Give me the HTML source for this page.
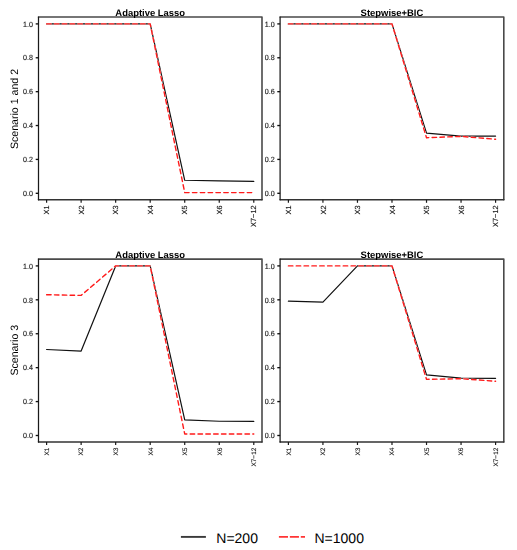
<!DOCTYPE html>
<html><head><meta charset="utf-8"><style>
html,body{margin:0;padding:0;background:#fff;}
svg{display:block;} svg.main{will-change:transform;} svg.leg{background:#fff;}
text{font-family:"Liberation Sans",sans-serif;text-rendering:geometricPrecision;}
.tk{font-size:7.5px;fill:#1c1c1c;stroke:#1c1c1c;stroke-width:0.15px;}
.ttl{font-size:9.45px;font-weight:bold;fill:#000;}
.ax{font-size:10.6px;fill:#000;}
.lg{font-size:14px;fill:#000;}
</style></head><body>
<svg class="main" width="517" height="526" viewBox="0 0 517 526">
<rect width="517" height="526" fill="#fff"/>
<path d="M38.5,17 L262,17 L262,199.8" fill="none" stroke="#4a4a4a" stroke-width="1.6" stroke-linejoin="round" stroke-linecap="round"/>
<line x1="262" y1="199.8" x2="38.5" y2="199.8" stroke="#333" stroke-width="1.55" stroke-linecap="round"/>
<line x1="38.5" y1="17" x2="38.5" y2="199.8" stroke="#1a1a1a" stroke-width="1.25" stroke-linecap="round"/>
<line x1="35.7" y1="193.3" x2="38.5" y2="193.3" stroke="#111" stroke-width="1.35"/>
<text class="tk" text-anchor="end" transform="translate(33,196) scale(0.95,1)">0.0</text>
<line x1="35.7" y1="159.42" x2="38.5" y2="159.42" stroke="#111" stroke-width="1.35"/>
<text class="tk" text-anchor="end" transform="translate(33,162.12) scale(0.95,1)">0.2</text>
<line x1="35.7" y1="125.54" x2="38.5" y2="125.54" stroke="#111" stroke-width="1.35"/>
<text class="tk" text-anchor="end" transform="translate(33,128.24) scale(0.95,1)">0.4</text>
<line x1="35.7" y1="91.66" x2="38.5" y2="91.66" stroke="#111" stroke-width="1.35"/>
<text class="tk" text-anchor="end" transform="translate(33,94.36) scale(0.95,1)">0.6</text>
<line x1="35.7" y1="57.78" x2="38.5" y2="57.78" stroke="#111" stroke-width="1.35"/>
<text class="tk" text-anchor="end" transform="translate(33,60.48) scale(0.95,1)">0.8</text>
<line x1="35.7" y1="23.9" x2="38.5" y2="23.9" stroke="#111" stroke-width="1.35"/>
<text class="tk" text-anchor="end" transform="translate(33,26.6) scale(0.95,1)">1.0</text>
<line x1="46.6" y1="199.8" x2="46.6" y2="202.8" stroke="#1a1a1a" stroke-width="1.2"/>
<text class="tk" text-anchor="end" style="font-size:7.4px" transform="translate(49.23,205.4) rotate(-90)">X1</text>
<line x1="81.13" y1="199.8" x2="81.13" y2="202.8" stroke="#1a1a1a" stroke-width="1.2"/>
<text class="tk" text-anchor="end" style="font-size:7.4px" transform="translate(83.76,205.4) rotate(-90)">X2</text>
<line x1="115.66" y1="199.8" x2="115.66" y2="202.8" stroke="#1a1a1a" stroke-width="1.2"/>
<text class="tk" text-anchor="end" style="font-size:7.4px" transform="translate(118.29,205.4) rotate(-90)">X3</text>
<line x1="150.19" y1="199.8" x2="150.19" y2="202.8" stroke="#1a1a1a" stroke-width="1.2"/>
<text class="tk" text-anchor="end" style="font-size:7.4px" transform="translate(152.82,205.4) rotate(-90)">X4</text>
<line x1="184.72" y1="199.8" x2="184.72" y2="202.8" stroke="#1a1a1a" stroke-width="1.2"/>
<text class="tk" text-anchor="end" style="font-size:7.4px" transform="translate(187.35,205.4) rotate(-90)">X5</text>
<line x1="219.25" y1="199.8" x2="219.25" y2="202.8" stroke="#1a1a1a" stroke-width="1.2"/>
<text class="tk" text-anchor="end" style="font-size:7.4px" transform="translate(221.88,205.4) rotate(-90)">X6</text>
<line x1="253.78" y1="199.8" x2="253.78" y2="202.8" stroke="#1a1a1a" stroke-width="1.2"/>
<text class="tk" text-anchor="end" style="font-size:7.4px" transform="translate(256.41,205.4) rotate(-90)">X7−12</text>
<polyline points="46.6,23.9 81.13,23.9 115.66,23.9 150.19,23.9 184.72,180.26 219.25,180.93 253.78,181.44" fill="none" stroke="#111" stroke-width="1.2" stroke-linejoin="round" stroke-linecap="round"/>
<g transform="scale(1,1.01)" fill="none" stroke-width="1.4" stroke-dasharray="4.5 3.33" stroke-linecap="round" stroke-linejoin="round"><polyline points="46.6,23.663 81.13,23.663 115.66,23.663 150.19,23.663 184.72,190.715 219.25,190.715 253.78,190.715" stroke="#fff"/><polyline points="46.6,23.663 81.13,23.663 115.66,23.663 150.19,23.663 184.72,190.715 219.25,190.715 253.78,190.715" stroke="#ff1a1a"/></g>
<text x="150.25" y="15.6" class="ttl" text-anchor="middle">Adaptive Lasso</text>
<path d="M280.1,17 L503.8,17 L503.8,199.8" fill="none" stroke="#4a4a4a" stroke-width="1.6" stroke-linejoin="round" stroke-linecap="round"/>
<line x1="503.8" y1="199.8" x2="280.1" y2="199.8" stroke="#333" stroke-width="1.55" stroke-linecap="round"/>
<line x1="280.1" y1="17" x2="280.1" y2="199.8" stroke="#1a1a1a" stroke-width="1.25" stroke-linecap="round"/>
<line x1="277.3" y1="193.3" x2="280.1" y2="193.3" stroke="#111" stroke-width="1.35"/>
<text class="tk" text-anchor="end" transform="translate(274.6,196) scale(0.95,1)">0.0</text>
<line x1="277.3" y1="159.42" x2="280.1" y2="159.42" stroke="#111" stroke-width="1.35"/>
<text class="tk" text-anchor="end" transform="translate(274.6,162.12) scale(0.95,1)">0.2</text>
<line x1="277.3" y1="125.54" x2="280.1" y2="125.54" stroke="#111" stroke-width="1.35"/>
<text class="tk" text-anchor="end" transform="translate(274.6,128.24) scale(0.95,1)">0.4</text>
<line x1="277.3" y1="91.66" x2="280.1" y2="91.66" stroke="#111" stroke-width="1.35"/>
<text class="tk" text-anchor="end" transform="translate(274.6,94.36) scale(0.95,1)">0.6</text>
<line x1="277.3" y1="57.78" x2="280.1" y2="57.78" stroke="#111" stroke-width="1.35"/>
<text class="tk" text-anchor="end" transform="translate(274.6,60.48) scale(0.95,1)">0.8</text>
<line x1="277.3" y1="23.9" x2="280.1" y2="23.9" stroke="#111" stroke-width="1.35"/>
<text class="tk" text-anchor="end" transform="translate(274.6,26.6) scale(0.95,1)">1.0</text>
<line x1="288.4" y1="199.8" x2="288.4" y2="202.8" stroke="#1a1a1a" stroke-width="1.2"/>
<text class="tk" text-anchor="end" style="font-size:7.4px" transform="translate(291.03,205.4) rotate(-90)">X1</text>
<line x1="322.93" y1="199.8" x2="322.93" y2="202.8" stroke="#1a1a1a" stroke-width="1.2"/>
<text class="tk" text-anchor="end" style="font-size:7.4px" transform="translate(325.56,205.4) rotate(-90)">X2</text>
<line x1="357.46" y1="199.8" x2="357.46" y2="202.8" stroke="#1a1a1a" stroke-width="1.2"/>
<text class="tk" text-anchor="end" style="font-size:7.4px" transform="translate(360.09,205.4) rotate(-90)">X3</text>
<line x1="391.99" y1="199.8" x2="391.99" y2="202.8" stroke="#1a1a1a" stroke-width="1.2"/>
<text class="tk" text-anchor="end" style="font-size:7.4px" transform="translate(394.62,205.4) rotate(-90)">X4</text>
<line x1="426.52" y1="199.8" x2="426.52" y2="202.8" stroke="#1a1a1a" stroke-width="1.2"/>
<text class="tk" text-anchor="end" style="font-size:7.4px" transform="translate(429.15,205.4) rotate(-90)">X5</text>
<line x1="461.05" y1="199.8" x2="461.05" y2="202.8" stroke="#1a1a1a" stroke-width="1.2"/>
<text class="tk" text-anchor="end" style="font-size:7.4px" transform="translate(463.68,205.4) rotate(-90)">X6</text>
<line x1="495.58" y1="199.8" x2="495.58" y2="202.8" stroke="#1a1a1a" stroke-width="1.2"/>
<text class="tk" text-anchor="end" style="font-size:7.4px" transform="translate(498.21,205.4) rotate(-90)">X7−12</text>
<polyline points="288.4,23.9 322.93,23.9 357.46,23.9 391.99,23.9 426.52,133.16 461.05,136.04 495.58,136.04" fill="none" stroke="#111" stroke-width="1.2" stroke-linejoin="round" stroke-linecap="round"/>
<g transform="scale(1,1.01)" fill="none" stroke-width="1.4" stroke-dasharray="4.5 3.33" stroke-linecap="round" stroke-linejoin="round"><polyline points="288.4,23.663 322.93,23.663 357.46,23.663 391.99,23.663 426.52,136.373 461.05,135.031 495.58,137.883" stroke="#fff"/><polyline points="288.4,23.663 322.93,23.663 357.46,23.663 391.99,23.663 426.52,136.373 461.05,135.031 495.58,137.883" stroke="#ff1a1a"/></g>
<text x="391.95" y="15.6" class="ttl" text-anchor="middle">Stepwise+BIC</text>
<path d="M38.5,259.1 L262,259.1 L262,442" fill="none" stroke="#4a4a4a" stroke-width="1.6" stroke-linejoin="round" stroke-linecap="round"/>
<line x1="262" y1="442" x2="38.5" y2="442" stroke="#333" stroke-width="1.55" stroke-linecap="round"/>
<line x1="38.5" y1="259.1" x2="38.5" y2="442" stroke="#1a1a1a" stroke-width="1.25" stroke-linecap="round"/>
<line x1="35.7" y1="435.5" x2="38.5" y2="435.5" stroke="#111" stroke-width="1.35"/>
<text class="tk" text-anchor="end" transform="translate(33,438.2) scale(0.95,1)">0.0</text>
<line x1="35.7" y1="401.58" x2="38.5" y2="401.58" stroke="#111" stroke-width="1.35"/>
<text class="tk" text-anchor="end" transform="translate(33,404.28) scale(0.95,1)">0.2</text>
<line x1="35.7" y1="367.66" x2="38.5" y2="367.66" stroke="#111" stroke-width="1.35"/>
<text class="tk" text-anchor="end" transform="translate(33,370.36) scale(0.95,1)">0.4</text>
<line x1="35.7" y1="333.74" x2="38.5" y2="333.74" stroke="#111" stroke-width="1.35"/>
<text class="tk" text-anchor="end" transform="translate(33,336.44) scale(0.95,1)">0.6</text>
<line x1="35.7" y1="299.82" x2="38.5" y2="299.82" stroke="#111" stroke-width="1.35"/>
<text class="tk" text-anchor="end" transform="translate(33,302.52) scale(0.95,1)">0.8</text>
<line x1="35.7" y1="265.9" x2="38.5" y2="265.9" stroke="#111" stroke-width="1.35"/>
<text class="tk" text-anchor="end" transform="translate(33,268.6) scale(0.95,1)">1.0</text>
<line x1="46.6" y1="442" x2="46.6" y2="445" stroke="#1a1a1a" stroke-width="1.2"/>
<text class="tk" text-anchor="end" style="font-size:6.5px" transform="translate(48.91,447.6) rotate(-90)">X1</text>
<line x1="81.13" y1="442" x2="81.13" y2="445" stroke="#1a1a1a" stroke-width="1.2"/>
<text class="tk" text-anchor="end" style="font-size:6.5px" transform="translate(83.44,447.6) rotate(-90)">X2</text>
<line x1="115.66" y1="442" x2="115.66" y2="445" stroke="#1a1a1a" stroke-width="1.2"/>
<text class="tk" text-anchor="end" style="font-size:6.5px" transform="translate(117.97,447.6) rotate(-90)">X3</text>
<line x1="150.19" y1="442" x2="150.19" y2="445" stroke="#1a1a1a" stroke-width="1.2"/>
<text class="tk" text-anchor="end" style="font-size:6.5px" transform="translate(152.5,447.6) rotate(-90)">X4</text>
<line x1="184.72" y1="442" x2="184.72" y2="445" stroke="#1a1a1a" stroke-width="1.2"/>
<text class="tk" text-anchor="end" style="font-size:6.5px" transform="translate(187.03,447.6) rotate(-90)">X5</text>
<line x1="219.25" y1="442" x2="219.25" y2="445" stroke="#1a1a1a" stroke-width="1.2"/>
<text class="tk" text-anchor="end" style="font-size:6.5px" transform="translate(221.56,447.6) rotate(-90)">X6</text>
<line x1="253.78" y1="442" x2="253.78" y2="445" stroke="#1a1a1a" stroke-width="1.2"/>
<text class="tk" text-anchor="end" style="font-size:6.5px" transform="translate(256.09,447.6) rotate(-90)">X7−12</text>
<polyline points="46.6,349.51 81.13,351.04 115.66,265.9 150.19,265.9 184.72,419.9 219.25,421.25 253.78,421.42" fill="none" stroke="#111" stroke-width="1.2" stroke-linejoin="round" stroke-linecap="round"/>
<g transform="scale(1,1.01)" fill="none" stroke-width="1.4" stroke-dasharray="4.5 3.33" stroke-linecap="round" stroke-linejoin="round"><polyline points="46.6,291.814 81.13,292.486 115.66,263.267 150.19,263.267 184.72,429.677 219.25,429.677 253.78,429.677" stroke="#fff"/><polyline points="46.6,291.814 81.13,292.486 115.66,263.267 150.19,263.267 184.72,429.677 219.25,429.677 253.78,429.677" stroke="#ff1a1a"/></g>
<text x="150.25" y="257.7" class="ttl" text-anchor="middle">Adaptive Lasso</text>
<path d="M280.1,259.1 L503.8,259.1 L503.8,442" fill="none" stroke="#4a4a4a" stroke-width="1.6" stroke-linejoin="round" stroke-linecap="round"/>
<line x1="503.8" y1="442" x2="280.1" y2="442" stroke="#333" stroke-width="1.55" stroke-linecap="round"/>
<line x1="280.1" y1="259.1" x2="280.1" y2="442" stroke="#1a1a1a" stroke-width="1.25" stroke-linecap="round"/>
<line x1="277.3" y1="435.5" x2="280.1" y2="435.5" stroke="#111" stroke-width="1.35"/>
<text class="tk" text-anchor="end" transform="translate(274.6,438.2) scale(0.95,1)">0.0</text>
<line x1="277.3" y1="401.58" x2="280.1" y2="401.58" stroke="#111" stroke-width="1.35"/>
<text class="tk" text-anchor="end" transform="translate(274.6,404.28) scale(0.95,1)">0.2</text>
<line x1="277.3" y1="367.66" x2="280.1" y2="367.66" stroke="#111" stroke-width="1.35"/>
<text class="tk" text-anchor="end" transform="translate(274.6,370.36) scale(0.95,1)">0.4</text>
<line x1="277.3" y1="333.74" x2="280.1" y2="333.74" stroke="#111" stroke-width="1.35"/>
<text class="tk" text-anchor="end" transform="translate(274.6,336.44) scale(0.95,1)">0.6</text>
<line x1="277.3" y1="299.82" x2="280.1" y2="299.82" stroke="#111" stroke-width="1.35"/>
<text class="tk" text-anchor="end" transform="translate(274.6,302.52) scale(0.95,1)">0.8</text>
<line x1="277.3" y1="265.9" x2="280.1" y2="265.9" stroke="#111" stroke-width="1.35"/>
<text class="tk" text-anchor="end" transform="translate(274.6,268.6) scale(0.95,1)">1.0</text>
<line x1="288.4" y1="442" x2="288.4" y2="445" stroke="#1a1a1a" stroke-width="1.2"/>
<text class="tk" text-anchor="end" style="font-size:6.5px" transform="translate(290.71,447.6) rotate(-90)">X1</text>
<line x1="322.93" y1="442" x2="322.93" y2="445" stroke="#1a1a1a" stroke-width="1.2"/>
<text class="tk" text-anchor="end" style="font-size:6.5px" transform="translate(325.24,447.6) rotate(-90)">X2</text>
<line x1="357.46" y1="442" x2="357.46" y2="445" stroke="#1a1a1a" stroke-width="1.2"/>
<text class="tk" text-anchor="end" style="font-size:6.5px" transform="translate(359.77,447.6) rotate(-90)">X3</text>
<line x1="391.99" y1="442" x2="391.99" y2="445" stroke="#1a1a1a" stroke-width="1.2"/>
<text class="tk" text-anchor="end" style="font-size:6.5px" transform="translate(394.3,447.6) rotate(-90)">X4</text>
<line x1="426.52" y1="442" x2="426.52" y2="445" stroke="#1a1a1a" stroke-width="1.2"/>
<text class="tk" text-anchor="end" style="font-size:6.5px" transform="translate(428.83,447.6) rotate(-90)">X5</text>
<line x1="461.05" y1="442" x2="461.05" y2="445" stroke="#1a1a1a" stroke-width="1.2"/>
<text class="tk" text-anchor="end" style="font-size:6.5px" transform="translate(463.36,447.6) rotate(-90)">X6</text>
<line x1="495.58" y1="442" x2="495.58" y2="445" stroke="#1a1a1a" stroke-width="1.2"/>
<text class="tk" text-anchor="end" style="font-size:6.5px" transform="translate(497.89,447.6) rotate(-90)">X7−12</text>
<polyline points="288.4,301.18 322.93,302.19 357.46,265.9 391.99,265.9 426.52,374.95 461.05,378.18 495.58,378.34" fill="none" stroke="#111" stroke-width="1.2" stroke-linejoin="round" stroke-linecap="round"/>
<g transform="scale(1,1.01)" fill="none" stroke-width="1.4" stroke-dasharray="4.5 3.33" stroke-linecap="round" stroke-linejoin="round"><polyline points="288.4,263.267 322.93,263.267 357.46,263.267 391.99,263.267 426.52,375.606 461.05,374.935 495.58,377.453" stroke="#fff"/><polyline points="288.4,263.267 322.93,263.267 357.46,263.267 391.99,263.267 426.52,375.606 461.05,374.935 495.58,377.453" stroke="#ff1a1a"/></g>
<text x="391.95" y="257.7" class="ttl" text-anchor="middle">Stepwise+BIC</text>
<text class="ax" text-anchor="middle" transform="translate(17.7,109.0) rotate(-90)">Scenario 1 and 2</text>
<text class="ax" text-anchor="middle" transform="translate(17.7,350.2) rotate(-90)">Scenario 3</text>
</svg>
<svg class="leg" width="517" height="24" viewBox="0 526 517 24">
<line x1="180.9" y1="536.9" x2="205.9" y2="536.9" stroke="#3a3a3a" stroke-width="1.9"/>
<text x="216.3" y="542.9" class="lg">N=200</text>
<line x1="278.9" y1="536.9" x2="305" y2="536.9" stroke="#ff3535" stroke-width="1.9" stroke-dasharray="9.1 1.85"/>
<text x="314.5" y="542.9" class="lg">N=1000</text>
</svg>
</body></html>
